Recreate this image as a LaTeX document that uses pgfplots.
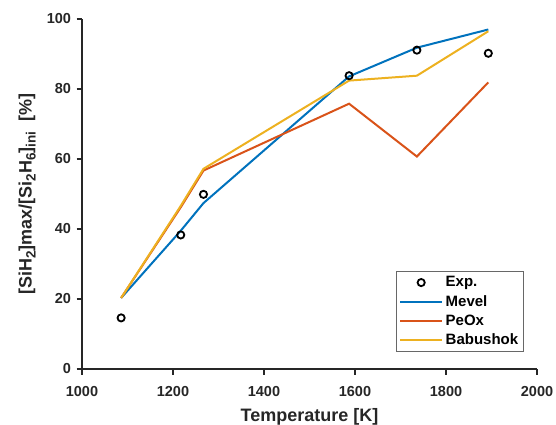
\documentclass[border=0pt]{standalone}
\usepackage{pgfplots}
\pgfplotsset{compat=1.18}
\usepackage{fontspec}
\setmainfont{Liberation Sans}
\definecolor{mblue}{rgb}{0,0.447,0.741}
\definecolor{mred}{rgb}{0.850,0.325,0.098}
\definecolor{myellow}{rgb}{0.929,0.694,0.125}
\definecolor{axgray}{rgb}{0.15,0.15,0.15}
\newcommand\sub[1]{\raisebox{-4pt}{\fontsize{13.5}{14}\selectfont\bfseries #1}}
\pgfplotsset{
  lineleg/.style={legend image code/.code={\draw[##1] (0pt,0pt) -- (42pt,0pt);}},
  markleg/.style={legend image code/.code={\draw[##1] plot coordinates {(21pt,0pt)};}},
}
\begin{document}
\begin{tikzpicture}
\useasboundingbox (-82pt,-56pt) rectangle (474pt,369pt);
\begin{axis}[
  scale only axis,
  width=455pt, height=350pt,
  xmin=1000, xmax=2000, ymin=0, ymax=100,
  xtick={1000,1200,...,2000},
  ytick={0,20,...,100},
  axis x line*=bottom, axis y line*=left,
  axis line style={axgray, line width=1.3pt},
  tick style={axgray, line width=1.3pt},
  tick align=outside,
  major tick length=5.5pt,
  /pgf/number format/assume math mode=true,
  /pgf/number format/1000 sep={},
  tick label style={font=\fontsize{14.5}{17}\selectfont\bfseries, text=axgray},
  xticklabel style={yshift=-8pt},
  yticklabel style={xshift=-2pt},
  label style={font=\fontsize{18}{20}\selectfont\bfseries, text=axgray},
  xlabel={Temperature [K]},
  ylabel={[SiH\sub{2}]max/[Si\sub{2}H\sub{6}]\sub{ini}\ \ [\%]},
  xlabel style={at={(axis description cs:0.5,0)}, anchor=base, yshift=-52pt},
  ylabel style={at={(axis description cs:-0.1105,0.5)}, anchor=base},
  legend style={at={(rel axis cs:0.9714,0.0486)}, anchor=south east,
    draw=axgray!70, line width=0.6pt, fill=white,
    font=\fontsize{15}{17}\selectfont\bfseries,
    inner xsep=3pt, inner ysep=4.5pt, row sep=5pt,
    nodes={inner xsep=2.5pt, inner ysep=1pt},
    legend cell align=left},
  clip=false,
]
\addplot[only marks, mark=o, mark size=3.6pt, black, line width=1.8pt, markleg]
  coordinates {(1086,14.6) (1217,38.3) (1267,49.9) (1587,83.8) (1736,91.1) (1893,90.2)};
\addlegendentry{Exp.}
\addplot[mblue, line width=2pt, mark=none, lineleg]
  coordinates {(1086,20.3) (1217,39.5) (1267,47.4) (1587,83.6) (1736,91.8) (1893,97.0)};
\addlegendentry{Mevel}
\addplot[mred, line width=2pt, mark=none, lineleg]
  coordinates {(1086,20.3) (1217,46.2) (1267,56.7) (1587,75.8) (1736,60.7) (1893,81.9)};
\addlegendentry{PeOx}
\addplot[myellow, line width=2pt, mark=none, lineleg]
  coordinates {(1086,20.3) (1217,46.6) (1267,57.2) (1587,82.4) (1736,83.8) (1893,96.5)};
\addlegendentry{Babushok}
\end{axis}
\end{tikzpicture}
\end{document}
